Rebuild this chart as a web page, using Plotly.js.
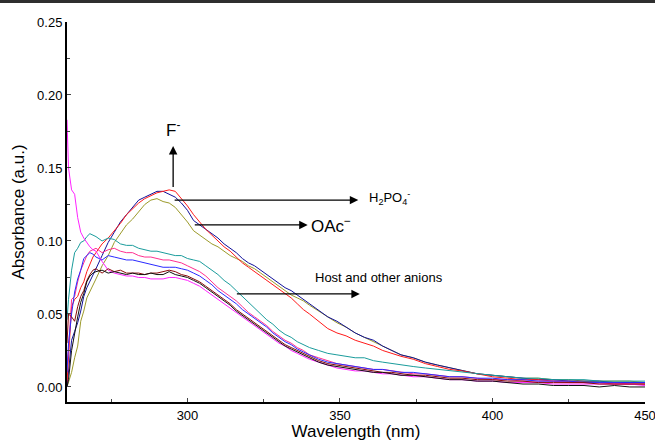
<!DOCTYPE html>
<html>
<head>
<meta charset="utf-8">
<script src="https://cdn.plot.ly/plotly-3.0.1.min.js"></script>
<style>html,body{margin:0;padding:0;background:#fff;}#chart{width:655px;height:441px;}</style>
</head>
<body>
<div id="chart"></div>
<script>
const wavelength = [260.5,261,262,263,264,265,266,267,268,269,270,272,274,276,278,280,282,284,286,288,290,292,294,296,298,300,302,304,306,308,310,312,314,316,318,320,322,324,326,328,330,332,334,336,338,340,343,346,349,352,355,358,361,364,367,370,374,378,382,386,390,395,400,405,410,415,420,425,430,435,440,445,450];

const seriesNames = ["Olive","Navy","Red (F-)","Teal","Deep pink","Blue","Magenta","Dark red","Black"];

const olive = [0.000,0.003,0.010,0.020,0.028,0.045,0.052,0.061,0.065,0.070,0.074,0.083,0.090,0.099,0.105,0.111,0.115,0.120,0.125,0.128,0.129,0.127,0.126,0.123,0.118,0.113,0.107,0.104,0.101,0.098,0.096,0.093,0.090,0.088,0.086,0.083,0.081,0.078,0.075,0.072,0.069,0.066,0.063,0.061,0.059,0.056,0.052,0.048,0.044,0.041,0.037,0.034,0.031,0.028,0.025,0.022,0.020,0.017,0.015,0.013,0.011,0.009,0.008,0.007,0.006,0.006,0.005,0.005,0.004,0.004,0.004,0.004,0.003];

const navy = [0.000,0.010,0.032,0.038,0.044,0.052,0.062,0.068,0.072,0.077,0.081,0.090,0.099,0.106,0.113,0.118,0.123,0.128,0.130,0.132,0.134,0.134,0.132,0.130,0.126,0.121,0.114,0.111,0.108,0.105,0.102,0.098,0.095,0.092,0.088,0.085,0.083,0.080,0.077,0.074,0.071,0.068,0.066,0.063,0.060,0.057,0.053,0.048,0.045,0.041,0.037,0.034,0.032,0.028,0.025,0.022,0.020,0.017,0.015,0.013,0.011,0.009,0.008,0.007,0.006,0.005,0.005,0.004,0.004,0.004,0.003,0.003,0.003];

const red = [0.003,0.020,0.055,0.060,0.062,0.068,0.072,0.079,0.084,0.089,0.092,0.098,0.102,0.107,0.112,0.118,0.122,0.126,0.129,0.131,0.133,0.134,0.135,0.134,0.129,0.124,0.118,0.113,0.108,0.104,0.100,0.096,0.093,0.089,0.085,0.082,0.079,0.076,0.073,0.070,0.067,0.064,0.061,0.057,0.053,0.050,0.045,0.040,0.037,0.035,0.032,0.030,0.028,0.025,0.023,0.021,0.019,0.016,0.014,0.012,0.011,0.009,0.007,0.006,0.005,0.005,0.004,0.004,0.003,0.003,0.002,0.002,0.002];

const teal = [0.046,0.060,0.080,0.092,0.095,0.099,0.100,0.103,0.105,0.104,0.103,0.100,0.102,0.101,0.098,0.097,0.097,0.095,0.094,0.093,0.093,0.092,0.091,0.090,0.090,0.088,0.087,0.086,0.083,0.080,0.077,0.073,0.070,0.066,0.062,0.058,0.054,0.050,0.046,0.043,0.039,0.036,0.034,0.031,0.029,0.027,0.025,0.023,0.022,0.021,0.020,0.020,0.018,0.017,0.016,0.015,0.014,0.013,0.012,0.011,0.010,0.009,0.008,0.007,0.006,0.006,0.005,0.005,0.005,0.004,0.004,0.004,0.004];

const deepPink = [0.015,0.025,0.060,0.062,0.072,0.080,0.085,0.090,0.093,0.094,0.095,0.092,0.094,0.095,0.093,0.092,0.092,0.090,0.089,0.089,0.088,0.087,0.087,0.086,0.085,0.083,0.081,0.079,0.076,0.072,0.068,0.065,0.062,0.059,0.055,0.051,0.048,0.045,0.042,0.038,0.035,0.032,0.030,0.027,0.025,0.022,0.020,0.018,0.016,0.015,0.014,0.013,0.012,0.012,0.011,0.010,0.009,0.009,0.008,0.007,0.007,0.006,0.005,0.005,0.004,0.004,0.004,0.003,0.003,0.003,0.003,0.002,0.002];

const blue = [0.010,0.030,0.050,0.065,0.074,0.080,0.088,0.090,0.092,0.091,0.089,0.087,0.090,0.089,0.088,0.087,0.087,0.086,0.085,0.084,0.083,0.082,0.082,0.082,0.081,0.080,0.078,0.076,0.073,0.070,0.066,0.063,0.060,0.057,0.053,0.050,0.047,0.044,0.041,0.037,0.034,0.031,0.029,0.026,0.024,0.022,0.019,0.017,0.016,0.015,0.014,0.013,0.012,0.012,0.011,0.010,0.010,0.009,0.008,0.007,0.007,0.006,0.006,0.005,0.005,0.004,0.004,0.004,0.003,0.003,0.003,0.003,0.003];

const magenta = [0.183,0.150,0.135,0.132,0.116,0.106,0.102,0.099,0.096,0.094,0.093,0.086,0.080,0.078,0.077,0.076,0.076,0.075,0.075,0.074,0.074,0.074,0.075,0.075,0.074,0.073,0.071,0.069,0.066,0.063,0.060,0.057,0.054,0.051,0.048,0.045,0.042,0.039,0.036,0.033,0.030,0.028,0.025,0.023,0.021,0.019,0.017,0.015,0.013,0.012,0.011,0.011,0.010,0.009,0.009,0.008,0.007,0.007,0.006,0.005,0.005,0.004,0.004,0.003,0.003,0.003,0.002,0.002,0.002,0.002,0.002,0.002,0.001];

const darkRed = [0.030,0.050,0.048,0.045,0.055,0.062,0.066,0.073,0.077,0.080,0.081,0.078,0.081,0.079,0.080,0.078,0.078,0.078,0.077,0.078,0.078,0.079,0.080,0.079,0.077,0.076,0.074,0.072,0.069,0.066,0.063,0.060,0.057,0.053,0.050,0.047,0.044,0.041,0.038,0.035,0.032,0.029,0.027,0.025,0.023,0.021,0.018,0.016,0.015,0.014,0.013,0.012,0.011,0.010,0.010,0.009,0.008,0.008,0.007,0.006,0.006,0.005,0.005,0.004,0.004,0.003,0.003,0.003,0.003,0.002,0.002,0.002,0.002];

const black = [0.000,0.005,0.025,0.038,0.048,0.058,0.064,0.072,0.076,0.078,0.079,0.080,0.078,0.079,0.078,0.077,0.078,0.077,0.077,0.078,0.077,0.077,0.079,0.077,0.076,0.075,0.073,0.071,0.068,0.065,0.062,0.059,0.056,0.052,0.049,0.046,0.043,0.040,0.037,0.034,0.031,0.028,0.026,0.024,0.022,0.020,0.017,0.015,0.014,0.013,0.012,0.011,0.010,0.010,0.009,0.008,0.008,0.007,0.006,0.005,0.005,0.004,0.004,0.003,0.002,0.002,0.001,0.001,0.001,0.000,0.001,0.000,0.000];

const seriesValues = [olive, navy, red, teal, deepPink, blue, magenta, darkRed, black];
const seriesColors = ["#9c9a2a","#10109a","#ff1a1a","#1a9c9c","#ff2f8f","#2a2aff","#ff22ff","#8a0a0a","#111111"];

const xTickVals = [300,350,400,450];
const yTickVals = [0.00,0.05,0.10,0.15,0.20,0.25];
const yTickText = ["0.00","0.05","0.10","0.15","0.20","0.25"];

const traces = seriesValues.map((v,i)=>({
  x: wavelength, y: v, type:'scatter', mode:'lines', name: seriesNames[i],
  line:{color: seriesColors[i], width:1}, showlegend:false
}));

const FONT = "Liberation Sans, Arial, sans-serif";
const arrowStyle = {showarrow:true, text:'', axref:'x', ayref:'y', arrowhead:2, arrowsize:1.3, arrowwidth:1.3, arrowcolor:'#000'};

const layout = {
  width:655, height:441,
  margin:{l:67, r:10, t:22, b:39},
  paper_bgcolor:'#fff', plot_bgcolor:'#fff',
  font:{family:FONT, color:'#000', size:13},
  xaxis:{
    range:[260.5,450], tickvals:xTickVals, ticks:'inside', ticklen:4, tickwidth:1,
    ticklabeloverflow:'allow',
    minor:{tickvals:[275,325,375,425], ticks:'inside', ticklen:3},
    showline:true, linewidth:2, linecolor:'#000', showgrid:false, zeroline:false,
    tickfont:{size:13, family:FONT},
    title:{text:'Wavelength (nm)', font:{size:17, family:FONT}, standoff:6}
  },
  yaxis:{
    range:[-0.0103,0.25], tickvals:yTickVals, ticktext:yTickText, ticks:'inside', ticklen:4, tickwidth:1,
    ticklabeloverflow:'allow',
    minor:{tickvals:[0.025,0.075,0.125,0.175,0.225], ticks:'inside', ticklen:3},
    showline:true, linewidth:2, linecolor:'#000', showgrid:false, zeroline:false,
    tickfont:{size:13, family:FONT},
    title:{text:'Absorbance (a.u.)', font:{size:17, family:FONT}, standoff:8}
  },
  shapes:[
    {type:'rect', xref:'paper', yref:'paper', x0:-0.2, x1:1.2, y0:1.05, y1:1.1, fillcolor:'#2e2e2e', line:{width:0}}
  ],
  annotations:[
    Object.assign({x:295.3, y:0.165, ax:295.3, ay:0.136, xref:'x', yref:'y'}, arrowStyle),
    Object.assign({x:356.0, y:0.128, ax:295.3, ay:0.128, xref:'x', yref:'y'}, arrowStyle),
    Object.assign({x:339.4, y:0.111, ax:301.9, ay:0.111, xref:'x', yref:'y'}, arrowStyle),
    Object.assign({x:356.5, y:0.0637, ax:315.7, ay:0.0637, xref:'x', yref:'y'}, arrowStyle),
    {x:295.3, y:0.177, xref:'x', yref:'y', text:'F<sup>-</sup>', showarrow:false, font:{size:17, family:FONT}},
    {x:358.8, y:0.1295, xref:'x', yref:'y', xanchor:'left', text:'H<sub>2</sub>PO<sub>4</sub><sup>-</sup>', showarrow:false, font:{size:13, family:FONT}},
    {x:339.8, y:0.111, xref:'x', yref:'y', xanchor:'left', text:'OAc<sup>−</sup>', showarrow:false, font:{size:17, family:FONT}},
    {x:341.3, y:0.0747, xref:'x', yref:'y', xanchor:'left', text:'Host and other anions', showarrow:false, font:{size:13, family:FONT}}
  ]
};

Plotly.newPlot('chart', traces, layout, {displayModeBar:false, staticPlot:true});
</script>
</body>
</html>
